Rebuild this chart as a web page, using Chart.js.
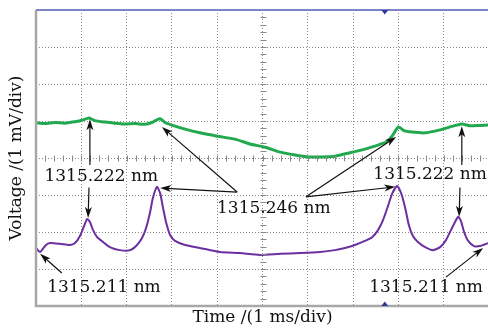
<!DOCTYPE html>
<html>
<head>
<meta charset="utf-8">
<script src="https://cdn.jsdelivr.net/npm/chart.js@4"></script>
<style>
  html, body { margin: 0; padding: 0; background: #fff; overflow: hidden; width: 488px; height: 331px; }
  canvas { display: block; }
</style>
</head>
<body>
<canvas id="scope" width="491" height="331"></canvas>
<script>
// x = time in divisions (1 ms/div), y = voltage in divisions (1 mV/div)
const greenTime = [0, 0.2, 0.42, 0.64, 0.86, 1.02, 1.17, 1.3, 1.52, 1.74, 1.96, 2.19, 2.41, 2.56, 2.65, 2.74, 2.85, 3.0, 3.29, 3.62, 4.0, 4.39, 4.72, 5.06, 5.39, 5.72, 6.0, 6.27, 6.6, 6.93, 7.26, 7.55, 7.73, 7.86, 8.0, 8.12, 8.3, 8.59, 8.92, 9.14, 9.4, 9.58, 9.8, 9.98];
const greenVolt = [0.95, 0.93, 0.96, 0.94, 0.98, 1.02, 1.08, 1.01, 0.97, 0.94, 0.92, 0.93, 0.91, 0.96, 1.02, 1.06, 0.96, 0.89, 0.78, 0.68, 0.59, 0.51, 0.38, 0.29, 0.16, 0.08, 0.03, 0.03, 0.05, 0.14, 0.24, 0.35, 0.43, 0.59, 0.84, 0.74, 0.70, 0.68, 0.76, 0.84, 0.92, 0.87, 0.88, 0.89];

const purpleTime = [0, 0.09, 0.22, 0.31, 0.53, 0.75, 0.86, 0.97, 1.08, 1.13, 1.19, 1.26, 1.35, 1.48, 1.63, 1.85, 2.08, 2.23, 2.34, 2.43, 2.52, 2.58, 2.67, 2.74, 2.8, 2.87, 2.96, 3.07, 3.29, 3.62, 4.06, 4.5, 4.94, 5.39, 5.83, 6.27, 6.6, 6.82, 7.04, 7.26, 7.42, 7.55, 7.66, 7.77, 7.86, 7.97, 8.06, 8.15, 8.23, 8.32, 8.43, 8.59, 8.76, 8.92, 9.05, 9.16, 9.25, 9.32, 9.38, 9.45, 9.54, 9.67, 9.8, 9.98];
const purpleVolt = [-2.43, -2.54, -2.35, -2.3, -2.32, -2.35, -2.3, -2.11, -1.78, -1.65, -1.73, -1.95, -2.14, -2.27, -2.41, -2.49, -2.49, -2.35, -2.16, -1.89, -1.46, -1.08, -0.78, -0.95, -1.32, -1.73, -2.08, -2.24, -2.35, -2.43, -2.54, -2.57, -2.62, -2.59, -2.57, -2.54, -2.49, -2.43, -2.35, -2.24, -2.14, -1.95, -1.68, -1.3, -0.97, -0.76, -0.95, -1.35, -1.81, -2.11, -2.27, -2.41, -2.49, -2.41, -2.22, -1.95, -1.73, -1.59, -1.7, -2.0, -2.24, -2.38, -2.38, -2.3];

const xDivs = [0, 10];   // 10 horizontal divisions
const yDivs = [-4, 4];   // 8 vertical divisions
const triggerAt = 7.7;   // trigger marker position

// wavelength labels and their arrows (in divisions)
const noteText = ['1315.222 nm', '1315.246 nm', '1315.222 nm', '1315.211 nm', '1315.211 nm'];
const noteX = [1.44, 5.25, 8.7, 1.5, 8.61];
const noteY = [-0.51, -1.38, -0.46, -3.51, -3.49];
const arrows = [
  [1.19, -0.19, 1.19, 1.05],
  [1.17, -0.8, 1.15, -1.62],
  [4.44, -0.92, 2.78, 0.84],
  [4.44, -0.92, 2.74, -0.81],
  [5.96, -1.05, 7.95, 0.57],
  [5.96, -1.05, 7.93, -0.78],
  [9.4, -0.19, 9.4, 0.86],
  [9.36, -0.8, 9.34, -1.59],
  [0.57, -3.11, 0.09, -2.59],
  [9.05, -3.22, 9.87, -2.43]
];

function toPoints(xs, ys) {
  return xs.map((v, i) => ({ x: v, y: ys[i] }));
}

function drawArrow(ctx, x1, y1, x2, y2) {
  const ang = Math.atan2(y2 - y1, x2 - x1);
  ctx.beginPath();
  ctx.moveTo(x1, y1);
  ctx.lineTo(x2 - Math.cos(ang) * 6, y2 - Math.sin(ang) * 6);
  ctx.stroke();
  ctx.save();
  ctx.translate(x2, y2);
  ctx.rotate(ang);
  ctx.beginPath();
  ctx.moveTo(0, 0);
  ctx.lineTo(-11, -3.5);
  ctx.lineTo(-8, 0);
  ctx.lineTo(-11, 3.5);
  ctx.closePath();
  ctx.fill();
  ctx.restore();
}

const scopeDecor = {
  id: 'scopeDecor',
  afterDatasetsDraw(chart) {
    const { ctx, chartArea: a, scales: { x, y } } = chart;
    ctx.save();

    // small ticks on the centre cross
    ctx.strokeStyle = '#888';
    ctx.lineWidth = 1;
    const cx = Math.round(x.getPixelForValue(5)) + 0.5;
    const cy = Math.round(y.getPixelForValue(0)) + 0.5;
    ctx.beginPath();
    for (let i = yDivs[0] * 5; i <= yDivs[1] * 5; i++) {
      const py = Math.round(y.getPixelForValue(i / 5)) + 0.5;
      ctx.moveTo(cx - 3, py); ctx.lineTo(cx + 3, py);
    }
    for (let i = xDivs[0] * 5; i <= xDivs[1] * 5; i++) {
      const px = Math.round(x.getPixelForValue(i / 5)) + 0.5;
      ctx.moveTo(px, cy - 3); ctx.lineTo(px, cy + 3);
    }
    ctx.stroke();

    // frame
    ctx.lineWidth = 2.5;
    ctx.strokeStyle = '#a8a8a8';
    ctx.beginPath();
    ctx.moveTo(a.left, a.top); ctx.lineTo(a.left, a.bottom); ctx.lineTo(a.right, a.bottom);
    ctx.stroke();
    ctx.lineWidth = 2;
    ctx.strokeStyle = '#7c84c8';
    ctx.beginPath();
    ctx.moveTo(a.left, a.top); ctx.lineTo(a.right, a.top);
    ctx.stroke();

    // trigger markers
    const tx = x.getPixelForValue(triggerAt);
    ctx.fillStyle = '#2c379c';
    ctx.beginPath();
    ctx.moveTo(tx - 3.5, a.top); ctx.lineTo(tx + 3.5, a.top); ctx.lineTo(tx, a.top + 4.5);
    ctx.closePath(); ctx.fill();
    ctx.beginPath();
    ctx.moveTo(tx - 3.5, a.bottom); ctx.lineTo(tx + 3.5, a.bottom); ctx.lineTo(tx, a.bottom - 4.5);
    ctx.closePath(); ctx.fill();

    // arrows
    ctx.strokeStyle = '#111';
    ctx.fillStyle = '#111';
    ctx.lineWidth = 1.2;
    arrows.forEach(r => drawArrow(ctx,
      x.getPixelForValue(r[0]), y.getPixelForValue(r[1]),
      x.getPixelForValue(r[2]), y.getPixelForValue(r[3])));

    // labels
    ctx.font = '17px "DejaVu Serif"';
    ctx.textAlign = 'center';
    ctx.textBaseline = 'middle';
    noteText.forEach((t, i) => ctx.fillText(t, x.getPixelForValue(noteX[i]), y.getPixelForValue(noteY[i])));

    ctx.restore();
  }
};

const titleFont = { family: 'DejaVu Serif', size: 17 };

new Chart(document.getElementById('scope'), {
  type: 'line',
  data: {
    datasets: [
      { data: toPoints(greenTime, greenVolt), borderColor: '#22a94f', borderWidth: 3, pointRadius: 0, tension: 0.2 },
      { data: toPoints(purpleTime, purpleVolt), borderColor: '#6b2fa0', borderWidth: 2, pointRadius: 0, tension: 0.2 }
    ]
  },
  options: {
    responsive: false,
    animation: false,
    events: [],
    layout: { padding: { top: 10, right: 2, left: 0, bottom: 0 } },
    plugins: { legend: { display: false }, tooltip: { enabled: false } },
    scales: {
      x: {
        type: 'linear', min: xDivs[0], max: xDivs[1],
        ticks: { display: false, stepSize: 1 },
        grid: { color: '#8a8a8a', lineWidth: 1, drawTicks: false },
        border: { display: false, dash: [1, 2] },
        title: { display: true, text: 'Time /(1 ms/div)', color: '#111', font: titleFont, padding: { top: 0, bottom: 3 } },
        afterFit(scale) { scale.height = 25; }
      },
      y: {
        type: 'linear', min: yDivs[0], max: yDivs[1],
        ticks: { display: false, stepSize: 1 },
        grid: { color: '#8a8a8a', lineWidth: 1, drawTicks: false },
        border: { display: false, dash: [1, 2] },
        title: { display: true, text: 'Voltage /(1 mV/div)', color: '#111', font: titleFont, padding: { top: 6, bottom: 0 } },
        afterFit(scale) { scale.width = 36; }
      }
    }
  },
  plugins: [scopeDecor]
});
</script>
</body>
</html>
